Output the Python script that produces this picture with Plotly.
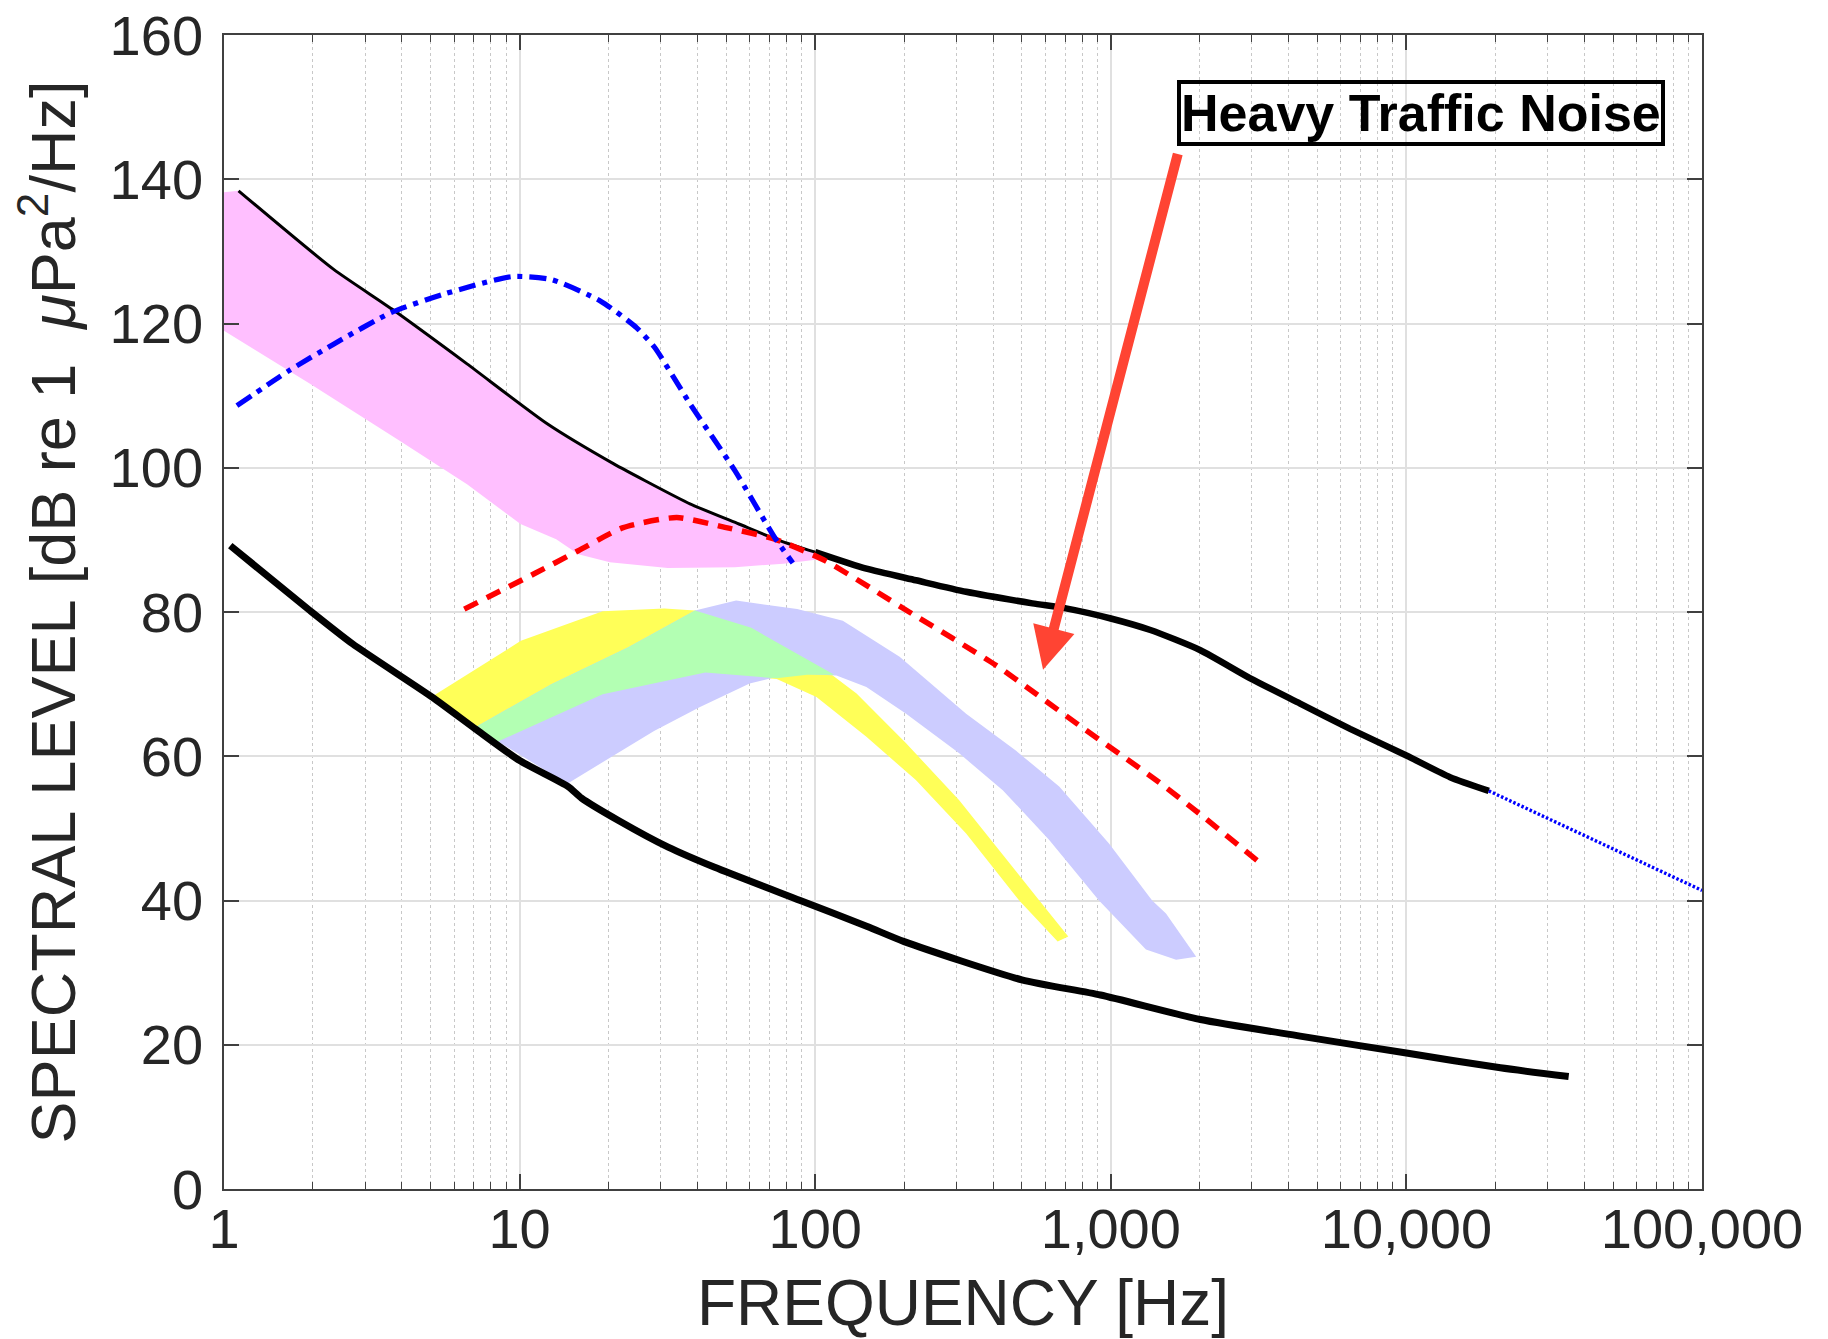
import numpy as np
import plotly.graph_objects as go

# ---------------- axis ticks ----------------
freq_tick_vals = [1, 10, 100, 1000, 10000, 100000]
freq_tick_text = ["1", "10", "100", "1,000", "10,000", "100,000"]
level_tick_vals = [0, 20, 40, 60, 80, 100, 120, 140, 160]

# ---------------- curves (frequency in Hz, level in dB) ----------------
# upper limit of prevailing noise: thin low-frequency part, thick part, extrapolation
upper_thin_hz = [1.12, 2.35, 3.7, 6.64, 12.4, 20.9, 26.6, 37.7, 55.2, 75.8, 100]
upper_thin_db = [138.4, 127.5, 122.0, 114.4, 106.1, 100.5, 98.2, 95.0, 92.2, 89.9, 88.3]
upper_thick_hz = [100, 149, 219, 324, 543, 705, 1000, 1361, 2009, 2965, 4370, 6450,
                  10000, 14050, 19000]
upper_thick_db = [88.3, 86.0, 84.4, 82.8, 81.2, 80.5, 79.1, 77.5, 74.7, 70.8, 67.3, 63.8,
                  60.1, 57.1, 55.2]
upper_ext_hz = [19000, 100000]
upper_ext_db = [55.2, 41.4]

# lower limit of prevailing noise
lower_hz = [1.05, 1.94, 2.72, 5.06, 7.08, 10, 14.6, 16.2, 21.6, 31.8, 45.7, 89, 150, 200,
            500, 923, 2010, 4370, 10000, 20800, 35400]
lower_db = [89.2, 80.3, 75.6, 68.2, 63.8, 59.4, 55.8, 54.2, 51.1, 47.4, 44.6, 40.0, 36.4,
            34.3, 29.0, 26.9, 23.5, 21.2, 18.85, 16.8, 15.6]

# heavy traffic noise (red dashed)
traffic_hz = [6.5, 11.2, 15.8, 22.4, 34, 50, 73, 107, 208, 409, 781, 1456, 1986, 3290]
traffic_db = [80.4, 85.3, 88.5, 91.7, 93.1, 91.7, 90.1, 87.2, 80.0, 72.6, 64.3, 56.4, 52.1, 44.8]

# blue dash-dot curve
dashdot_hz = [1.106, 1.65, 2.34, 3.67, 5.57, 9.4, 12.8, 18.8, 24.9, 28.6, 37.8, 53.5, 73, 84]
dashdot_db = [108.6, 113.4, 117.1, 121.5, 124.1, 126.5, 126.1, 123.1, 119.4, 116.7, 108.8,
              99.6, 90.3, 86.8]

# ---------------- shaded bands ----------------
pink_top_hz = [1, 1.12, 2.35, 3.7, 6.64, 12.4, 20.9, 26.6, 37.7, 55.2, 75.8, 100, 115]
pink_top_db = [138.2, 138.4, 127.5, 122.0, 114.4, 106.1, 100.5, 98.2, 95.0, 92.2, 89.9, 88.3, 87.6]
pink_bot_hz = [1, 1.96, 3.94, 6.64, 10.07, 13.3, 15.8, 20.2, 31.7, 53.5, 78, 103.5, 115]
pink_bot_db = [119.0, 111.6, 103.7, 97.7, 92.2, 90.1, 88.0, 86.9, 86.1, 86.2, 86.7, 87.3, 87.6]

yellow_top_hz = [5.03, 10.1, 19.1, 30.9, 39.2, 60.8, 112, 138, 203, 307, 573, 718]
yellow_top_db = [68.2, 76.0, 80.1, 80.5, 80.2, 77.8, 71.5, 68.7, 61.8, 53.9, 40.0, 35.0]
yellow_bot_hz = [8.3, 19.1, 42.5, 74.1, 101, 149, 219, 324, 490, 661]
yellow_bot_db = [61.9, 68.6, 71.6, 70.7, 68.2, 62.7, 56.7, 49.3, 40.0, 34.3]

lav_top_hz = [7.06, 12.8, 23.3, 39.2, 54, 86.9, 124, 193, 324, 477, 669, 986, 1380, 1537, 1945]
lav_top_db = [64.0, 70.0, 75.1, 80.2, 81.6, 80.4, 78.8, 73.8, 65.9, 60.8, 55.8, 47.9, 40.0,
              38.2, 32.2]
lav_bot_hz = [14.5, 28.5, 40.6, 60, 73.8, 94, 118, 149, 203, 307, 431, 619, 912, 1315, 1663]
lav_bot_db = [56.2, 63.5, 66.8, 70.1, 71.0, 71.4, 71.2, 69.6, 65.9, 60.4, 55.3, 48.4, 40.0,
              33.2, 31.8]

green_top_hz = [7.06, 12.8, 23.3, 39.2, 60.8, 116]
green_top_db = [64.0, 70.0, 75.1, 80.2, 77.8, 71.3]
green_bot_hz = [8.3, 19.1, 42.5, 74, 94, 116]
green_bot_db = [61.9, 68.6, 71.6, 70.8, 71.3, 71.3]

# arrow pointing at the traffic-noise curve
arrow_tip_hz, arrow_tip_db = 590, 72.0
arrow_tail_hz, arrow_tail_db = 1690, 143.7
label_text = "Heavy Traffic Noise"

FONT = "Liberation Sans"
AX_COLOR = "#262626"


def band(top_hz, top_db, bot_hz, bot_db, color):
    xs = list(top_hz) + list(bot_hz)[::-1]
    ys = list(top_db) + list(bot_db)[::-1]
    return go.Scatter(x=xs, y=ys, mode="lines", fill="toself", fillcolor=color,
                      line=dict(width=0, color=color), hoverinfo="skip", showlegend=False)


def curve(xs, ys, color, width, dash="solid"):
    return go.Scatter(x=xs, y=ys, mode="lines", showlegend=False,
                      line=dict(color=color, width=width, dash=dash,
                                shape="spline", smoothing=0.6))


fig = go.Figure()

fig.add_trace(band(pink_top_hz, pink_top_db, pink_bot_hz, pink_bot_db, "#FFBFFF"))
fig.add_trace(band(yellow_top_hz, yellow_top_db, yellow_bot_hz, yellow_bot_db, "#FFFF58"))
fig.add_trace(band(lav_top_hz, lav_top_db, lav_bot_hz, lav_bot_db, "#CCCCFF"))
fig.add_trace(band(green_top_hz, green_top_db, green_bot_hz, green_bot_db, "#B3FFB3"))

fig.add_trace(curve(upper_thin_hz, upper_thin_db, "black", 3))
fig.add_trace(curve(upper_thick_hz, upper_thick_db, "black", 6.5))
fig.add_trace(curve(lower_hz, lower_db, "black", 7))
fig.add_trace(curve(traffic_hz, traffic_db, "#FF0000", 5.5, "15px,10px"))
fig.add_trace(curve(dashdot_hz, dashdot_db, "#0000FF", 5.2, "17px,7px,5px,7px"))
fig.add_trace(curve(upper_ext_hz, upper_ext_db, "#0000FF", 3.4, "2.5px,2px"))

fig.add_annotation(
    x=np.log10(arrow_tip_hz), y=arrow_tip_db, xref="x", yref="y",
    ax=np.log10(arrow_tail_hz), ay=arrow_tail_db, axref="x", ayref="y",
    text="", showarrow=True, arrowhead=2, arrowsize=0.85, arrowwidth=10,
    arrowcolor="#FF4433", standoff=0, startstandoff=0,
)
fig.add_annotation(
    x=0.8102, y=0.9322, xref="paper", yref="paper", xanchor="center", yanchor="middle",
    text="<b>" + label_text + "</b>", showarrow=False,
    font=dict(family=FONT, size=52, color="black"),
    bordercolor="black", borderwidth=4, borderpad=0, bgcolor="rgba(0,0,0,0)",
)

fig.update_xaxes(
    type="log", range=[0, 5],
    tickmode="array", tickvals=freq_tick_vals, ticktext=freq_tick_text,
    ticks="inside", ticklen=15, tickwidth=1.5, tickcolor="#404040",
    showline=True, linecolor="#404040", linewidth=1.5, mirror="ticks",
    showgrid=True, gridcolor="#E0E0E0", gridwidth=1.5,
    tickfont=dict(family=FONT, size=56, color=AX_COLOR),
    ticklabelstandoff=-10,
    minor=dict(dtick="D1", ticks="inside", ticklen=7, tickwidth=1.2, tickcolor="#404040",
               showgrid=True, gridcolor="#C8C8C8", griddash="dot", gridwidth=1),
    title=dict(text="FREQUENCY [Hz]", font=dict(family=FONT, size=64, color=AX_COLOR),
               standoff=36),
    zeroline=False,
)
fig.update_yaxes(
    range=[0, 160], tickmode="array", tickvals=level_tick_vals,
    ticks="inside", ticklen=15, tickwidth=1.5, tickcolor="#404040",
    showline=True, linecolor="#404040", linewidth=1.5, mirror="ticks",
    showgrid=True, gridcolor="#E0E0E0", gridwidth=1.5,
    tickfont=dict(family=FONT, size=56, color=AX_COLOR),
    ticklabelstandoff=8,
    title=dict(text="SPECTRAL LEVEL [dB re 1 \u00a0<i>\u03bc</i>Pa<sup>2</sup>/Hz]",
               font=dict(family=FONT, size=63, color=AX_COLOR), standoff=14),
    zeroline=False,
)

fig.update_layout(
    width=1828, height=1339,
    margin=dict(l=224, r=126, t=35, b=150, autoexpand=False),
    paper_bgcolor="white", plot_bgcolor="white",
    showlegend=False,
)

fig.write_html("out.html")
